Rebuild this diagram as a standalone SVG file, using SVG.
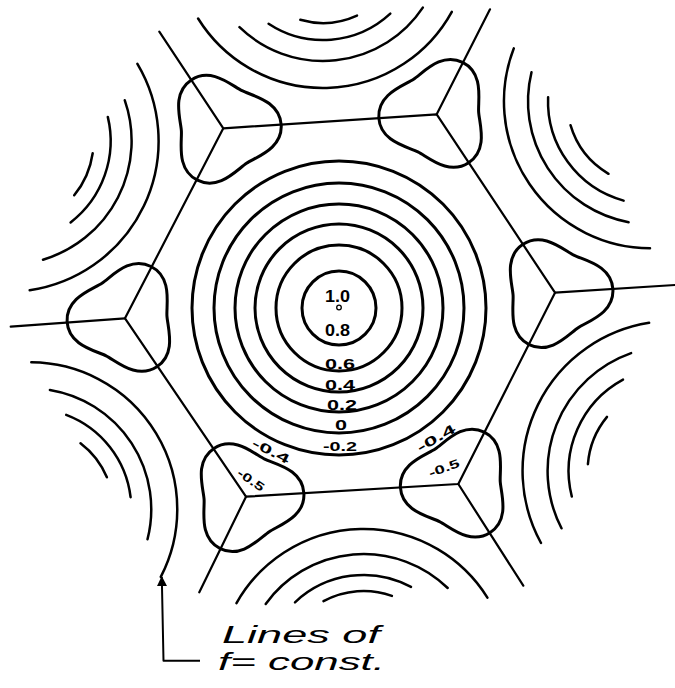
<svg xmlns="http://www.w3.org/2000/svg" width="675" height="688" viewBox="0 0 675 688">
<style>
.hex{fill:none;stroke:#000;stroke-width:2.2;stroke-linejoin:round;stroke-linecap:round}
.ring{fill:none;stroke:#000;stroke-width:3}
.tre{fill:none;stroke:#000;stroke-width:3}
.arc{fill:none;stroke:#000;stroke-width:2.5;stroke-linecap:round}
.lbl{font-family:"Liberation Sans",Arial,sans-serif;font-weight:bold;fill:#000}
.note{font-family:"Liberation Sans",Arial,sans-serif;font-style:italic;font-size:23px;fill:#000}
.lead{fill:none;stroke:#000;stroke-width:2;stroke-linejoin:round}
</style>
<defs>
<path id="trefoil" d="M58,0 C58,24 31.13,30.52 21,36.37 C10.87,42.22 -8.22,62.23 -29,50.23 C-49.78,38.23 -42,11.7 -42,0 C-42,-11.7 -49.78,-38.24 -29,-50.23 C-8.22,-62.23 10.87,-42.22 21,-36.37 C31.13,-30.52 58,-24 58,0 Z"/>
<marker id="arrowhead" viewBox="0 0 10 10" refX="9" refY="5" markerWidth="10" markerHeight="10" markerUnits="userSpaceOnUse" orient="auto">
<path d="M0,0 L10,5 L0,10 Z" fill="#000"/>
</marker>
</defs>
<rect width="675" height="688" fill="#fff"/>

<g id="cell-boundary">
<polygon class="hex" points="223.3,128.3 436.7,114.3 555,292.7 458.3,484 246,496.7 125,318.3"/>
<path class="hex" d="M223.3,128.3 L159.3,31.7 M436.7,114.3 L490,9.3 M555,292.7 L675,285 M458.3,484 L523.3,585.7 M246,496.7 L199.3,592.3 M125,318.3 L10.7,326.7"/>
</g>

<g id="trefoils" class="tre">
<use id="trefoil-tl" href="#trefoil" transform="translate(223.3,128.3) rotate(-123.5)"/>
<use id="trefoil-tr" href="#trefoil" transform="translate(436.7,114.3) rotate(-63.4)"/>
<use id="trefoil-r" href="#trefoil" transform="translate(555,292.7) rotate(-3.5)"/>
<use id="trefoil-br" href="#trefoil" transform="translate(458.3,484) rotate(56.6)"/>
<use id="trefoil-bl" href="#trefoil" transform="translate(246,496.7) rotate(116.4)"/>
<use id="trefoil-l" href="#trefoil" transform="translate(125,318.3) rotate(176.7)"/>
</g>

<g id="rings" class="ring">
<circle cx="339" cy="308" r="37"/>
<circle cx="339" cy="308" r="63"/>
<circle cx="339" cy="308" r="84"/>
<circle cx="339" cy="308" r="104"/>
<circle cx="339" cy="308" r="125"/>
<circle cx="339" cy="308" r="147"/>
<circle cx="339" cy="307.5" r="2.3" style="stroke-width:1.3"/>
</g>

<g id="arcs-top-left" class="arc">
<path d="M137.4,63.8 A151,151 0 0 1 29.7,290.3"/>
<path d="M124.8,100.3 A124,124 0 0 1 43,259.7"/>
<path d="M107.8,116.9 A103,103 0 0 1 70.6,222.4"/>
<path d="M92.7,153.2 A86,86 0 0 1 74.2,195.3"/>
</g>
<g id="arcs-top" class="arc">
<path d="M198.1,18.5 A147,147 0 0 0 451.8,11.8"/>
<path d="M239.5,27.2 A120,120 0 0 0 422.8,7.6"/>
<path d="M268.6,23.7 A99,99 0 0 0 390.3,13.6"/>
<path d="M300.3,19.8 A82,82 0 0 0 357,15.6"/>
</g>
<g id="arcs-top-right" class="arc">
<path d="M513.8,48.4 A147,147 0 0 0 650,248.3"/>
<path d="M531.5,72.2 A123,123 0 0 0 628.6,222.2"/>
<path d="M548.1,97.2 A103,103 0 0 0 623.6,200.6"/>
<path d="M570.5,125.2 A84,84 0 0 0 608.5,173.8"/>
</g>
<g id="arcs-bottom-right" class="arc">
<path d="M649.1,322.8 A150,150 0 0 0 541,543"/>
<path d="M631.1,353.1 A125,125 0 0 0 561.5,528.3"/>
<path d="M623,379.6 A104,104 0 0 0 571.8,496.5"/>
<path d="M607,416.9 A85,85 0 0 0 587.9,464.2"/>
</g>
<g id="arcs-bottom" class="arc">
<path d="M236.5,603.1 A146,146 0 0 1 487.4,597.6"/>
<path d="M265.7,603.9 A121,121 0 0 1 447.7,588"/>
<path d="M295,602.3 A100,100 0 0 1 411,586.9"/>
<path d="M323.5,601.2 A84,84 0 0 1 391.9,595.9"/>
</g>
<g id="arcs-bottom-left" class="arc">
<path d="M31.3,362.3 A147,147 0 0 1 160.8,576.9"/>
<path d="M49.9,389.9 A121,121 0 0 1 147.5,539.2"/>
<path d="M66.2,414.9 A101,101 0 0 1 130.6,497.2"/>
<path d="M80.5,443.2 A83,83 0 0 1 106.9,477.3"/>
</g>

<g id="ring-labels" class="lbl">
<text x="325" y="302" font-size="16" textLength="25" lengthAdjust="spacingAndGlyphs">1.0</text>
<text x="325" y="336" font-size="16" textLength="25" lengthAdjust="spacingAndGlyphs">0.8</text>
<text x="325" y="369" font-size="15" textLength="30" lengthAdjust="spacingAndGlyphs">0.6</text>
<text x="325" y="390" font-size="15" textLength="30" lengthAdjust="spacingAndGlyphs">0.4</text>
<text x="327" y="410" font-size="15" textLength="30" lengthAdjust="spacingAndGlyphs">0.2</text>
<text x="335" y="430" font-size="15" textLength="12" lengthAdjust="spacingAndGlyphs">0</text>
<text x="323" y="451" font-size="12" textLength="34" lengthAdjust="spacingAndGlyphs">-0.2</text>
<text transform="translate(271,451) rotate(27)" text-anchor="middle" dy="0.35em" font-size="13" textLength="40" lengthAdjust="spacingAndGlyphs">-0.4</text>
<text transform="translate(251,480) rotate(35)" text-anchor="middle" dy="0.35em" font-size="12" textLength="30" lengthAdjust="spacingAndGlyphs">-0.5</text>
<text transform="translate(436,438) rotate(-30)" text-anchor="middle" dy="0.35em" font-size="13" textLength="42" lengthAdjust="spacingAndGlyphs">-0.4</text>
<text transform="translate(444,468) rotate(-20)" text-anchor="middle" dy="0.35em" font-size="12" textLength="32" lengthAdjust="spacingAndGlyphs">-0.5</text>
</g>

<g id="connectors">
<path class="lead" d="M200,660.7 L163.5,660.7 L161.8,577" marker-end="url(#arrowhead)"/>
</g>

<g id="annotation">
<text class="note" x="222" y="643" textLength="158" lengthAdjust="spacingAndGlyphs">Lines of</text>
<text class="note" x="218" y="670" textLength="167" lengthAdjust="spacingAndGlyphs">f= const.</text>
</g>
</svg>
